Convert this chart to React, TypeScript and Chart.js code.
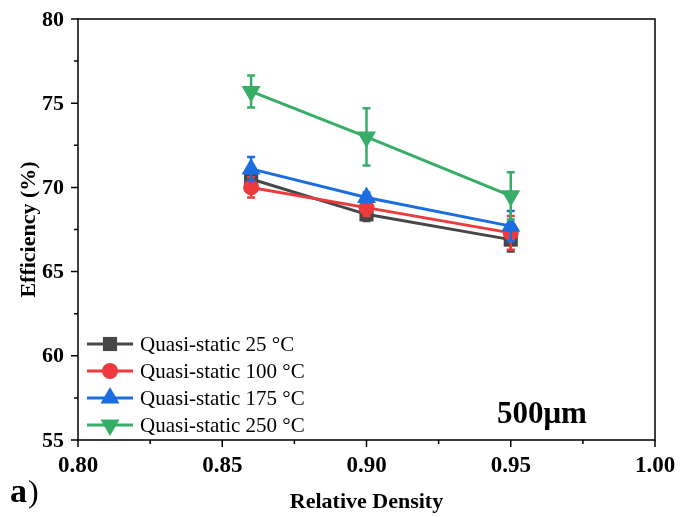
import React, { useEffect, useRef } from "react";
import { Chart, registerables } from "chart.js";
Chart.register(...registerables);

const densities = [0.86, 0.9, 0.95];
const seriesNames = ["Quasi-static 25 °C", "Quasi-static 100 °C", "Quasi-static 175 °C", "Quasi-static 250 °C"];
const eff25 = [70.5, 68.4, 66.9];
const err25 = [0.5, 0.4, 0.7];
const eff100 = [70.0, 68.8, 67.3];
const err100 = [0.6, 0.5, 1.0];
const eff175 = [71.1, 69.4, 67.7];
const err175 = [0.7, 0.3, 0.9];
const eff250 = [75.7, 73.0, 69.5];
const err250 = [0.95, 1.7, 1.4];
const colors = ["#474747", "#ee3a3c", "#1c6ee0", "#37ad68"];
const markers = ["rect", "circle", "triangle", "triangle"];
const markerRot = [0, 0, 0, 180];
const markerRadius = [10, 8, 11, 11];
const xTicks = [0.8, 0.85, 0.9, 0.95, 1.0];
const yTicks = [55, 60, 65, 70, 75, 80];
const xMinor = [0.825, 0.875, 0.925, 0.975];
const yMinor = [57.5, 62.5, 67.5, 72.5, 77.5];
const xTitle = "Relative Density";
const yTitle = "Efficiency (%)";
const annotation = "500μm";
const panelLabel = "a";

const values = [eff25, eff100, eff175, eff250];
const errors = [err25, err100, err175, err250];

const SERIF = "'Liberation Serif', 'Times New Roman', serif";

function drawMarker(ctx: any, style: string, x: number, y: number, r: number, rot: number) {
  ctx.beginPath();
  if (style === "rect") {
    const s = Math.SQRT1_2 * r;
    ctx.rect(x - s, y - s, 2 * s, 2 * s);
  } else if (style === "circle") {
    ctx.arc(x, y, r, 0, Math.PI * 2);
  } else {
    const sign = rot === 180 ? -1 : 1;
    const hw = r * 0.866;
    ctx.moveTo(x, y - sign * r);
    ctx.lineTo(x - hw, y + sign * r * 0.5);
    ctx.lineTo(x + hw, y + sign * r * 0.5);
    ctx.closePath();
  }
  ctx.fill();
}

export default function App() {
  const ref = useRef<HTMLCanvasElement | null>(null);
  useEffect(() => {
    const canvas = ref.current;
    if (!canvas) return;

    const plugin = {
      id: "custom",
      beforeDatasetDraw(chart: any, args: any) {
        const i = args.index;
        const ctx = chart.ctx;
        const xs = chart.scales.x;
        const ys = chart.scales.y;
        ctx.save();
        ctx.strokeStyle = colors[i];
        ctx.lineWidth = 2.5;
        densities.forEach((d, j) => {
          const x = xs.getPixelForValue(d);
          const yt = ys.getPixelForValue(values[i][j] + errors[i][j]);
          const yb = ys.getPixelForValue(values[i][j] - errors[i][j]);
          ctx.beginPath();
          ctx.moveTo(x, yt);
          ctx.lineTo(x, yb);
          ctx.moveTo(x - 4, yt);
          ctx.lineTo(x + 4, yt);
          ctx.moveTo(x - 4, yb);
          ctx.lineTo(x + 4, yb);
          ctx.stroke();
        });
        ctx.restore();
      },
      afterDraw(chart: any) {
        const ctx = chart.ctx;
        const a = chart.chartArea;
        const xs = chart.scales.x;
        const ys = chart.scales.y;
        ctx.save();
        ctx.strokeStyle = "#000";
        ctx.lineWidth = 1.5;
        ctx.strokeRect(a.left, a.top, a.right - a.left, a.bottom - a.top);
        ctx.beginPath();
        yTicks.forEach((v) => {
          const y = ys.getPixelForValue(v);
          ctx.moveTo(a.left - 7, y);
          ctx.lineTo(a.left, y);
        });
        yMinor.forEach((v) => {
          const y = ys.getPixelForValue(v);
          ctx.moveTo(a.left - 4, y);
          ctx.lineTo(a.left, y);
        });
        xTicks.forEach((v) => {
          const x = xs.getPixelForValue(v);
          ctx.moveTo(x, a.bottom);
          ctx.lineTo(x, a.bottom + 7);
        });
        xMinor.forEach((v) => {
          const x = xs.getPixelForValue(v);
          ctx.moveTo(x, a.bottom);
          ctx.lineTo(x, a.bottom + 4);
        });
        ctx.stroke();

        // tick labels
        ctx.fillStyle = "#000";
        ctx.font = `bold 22px ${SERIF}`;
        ctx.textAlign = "right";
        ctx.textBaseline = "middle";
        yTicks.forEach((v) => {
          ctx.fillText(String(v), a.left - 14, ys.getPixelForValue(v) + 1);
        });
        ctx.font = `bold 23px ${SERIF}`;
        ctx.textAlign = "center";
        ctx.textBaseline = "alphabetic";
        xTicks.forEach((v) => {
          ctx.fillText(v.toFixed(2), xs.getPixelForValue(v), a.bottom + 32);
        });

        // axis titles
        ctx.font = `bold 22px ${SERIF}`;
        ctx.textAlign = "center";
        ctx.textBaseline = "alphabetic";
        ctx.fillText(xTitle, (a.left + a.right) / 2, 508);
        ctx.save();
        ctx.translate(35, (a.top + a.bottom) / 2);
        ctx.rotate(-Math.PI / 2);
        ctx.fillText(yTitle, 0, 0);
        ctx.restore();

        // legend
        const rowY = [344, 371, 398, 425];
        seriesNames.forEach((name, i) => {
          const y = rowY[i];
          ctx.strokeStyle = colors[i];
          ctx.lineWidth = 3;
          ctx.beginPath();
          ctx.moveTo(87, y);
          ctx.lineTo(133, y);
          ctx.stroke();
          ctx.fillStyle = colors[i];
          drawMarker(ctx, markers[i], 110, y, markerRadius[i], markerRot[i]);
          ctx.fillStyle = "#000";
          ctx.font = `21px ${SERIF}`;
          ctx.textAlign = "left";
          ctx.textBaseline = "middle";
          ctx.fillText(name, 140, y + 1);
        });

        ctx.fillStyle = "#000";
        ctx.font = `bold 31px ${SERIF}`;
        ctx.textAlign = "left";
        ctx.textBaseline = "alphabetic";
        ctx.fillText(annotation, 497, 423);

        ctx.font = `bold 34px ${SERIF}`;
        ctx.fillText(panelLabel, 10, 502);
        const w = ctx.measureText(panelLabel).width;
        ctx.font = `32px ${SERIF}`;
        ctx.fillText(")", 10 + w + 1, 502);
        ctx.restore();
      },
    };

    const order = [3, 2, 1, 0];
    const chart = new Chart(canvas, {
      type: "line",
      data: {
        datasets: values.map((vals, i) => ({
          label: seriesNames[i],
          data: vals.map((v, j) => ({ x: densities[j], y: v })),
          borderColor: colors[i],
          backgroundColor: colors[i],
          borderWidth: 3,
          pointStyle: markers[i] as any,
          pointRotation: markerRot[i],
          pointRadius: markerRadius[i],
          pointBorderWidth: 0,
          pointBackgroundColor: colors[i],
          order: order[i],
          tension: 0,
        })),
      },
      options: {
        animation: false,
        responsive: false,
        layout: { padding: { top: 19, right: 25, left: 0, bottom: 0 } },
        plugins: { legend: { display: false }, tooltip: { enabled: false } },
        scales: {
          x: {
            type: "linear",
            min: 0.8,
            max: 1.0,
            afterFit: (s: any) => {
              s.height = 77;
            },
            ticks: { display: false },
            grid: { display: false, drawTicks: false },
            border: { display: false },
          },
          y: {
            type: "linear",
            min: 55,
            max: 80,
            afterFit: (s: any) => {
              s.width = 78;
            },
            ticks: { display: false },
            grid: { display: false, drawTicks: false },
            border: { display: false },
          },
        },
      },
      plugins: [plugin],
    } as any);
    return () => chart.destroy();
  }, []);

  return (
    <div style={{ position: "fixed", left: 0, top: 0, width: 680, height: 517, background: "#fff" }}>
      <canvas ref={ref} width={680} height={517} />
    </div>
  );
}
